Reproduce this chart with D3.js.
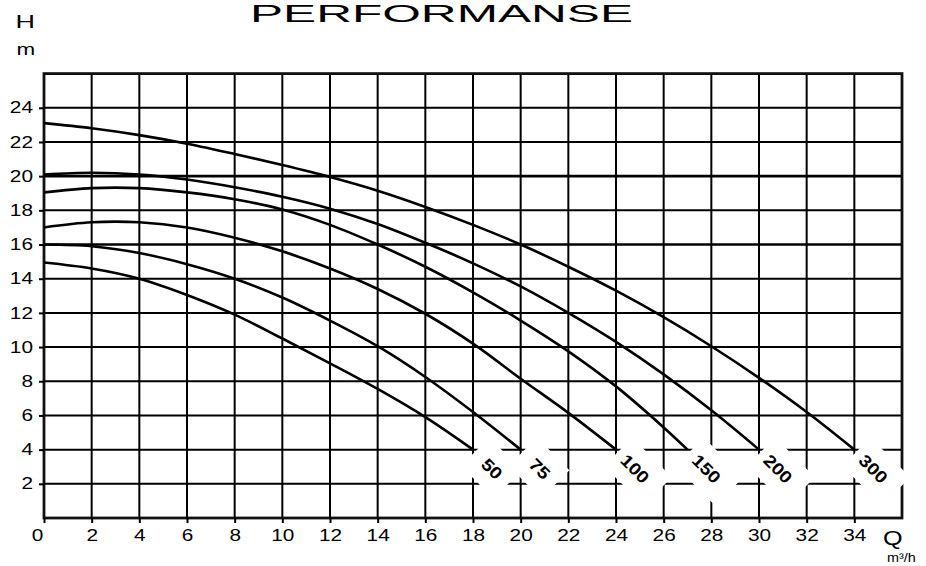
<!DOCTYPE html>
<html>
<head>
<meta charset="utf-8">
<script src="https://cdn.jsdelivr.net/npm/d3@7"></script>
<style>
  body { margin: 0; background: #fff; }
  text { font-family: "Liberation Sans", Arial, sans-serif; fill: #000; }
</style>
</head>
<body>
<div id="chart"></div>
<script>
// tick values
const qTicks = [0, 2, 4, 6, 8, 10, 12, 14, 16, 18, 20, 22, 24, 26, 28, 30, 32, 34];
const hTicks = [2, 4, 6, 8, 10, 12, 14, 16, 18, 20, 22, 24];

// pump curves, [Q m3/h, H m]
const curve50  = [[0,14.95],[2,14.6],[4,14.0],[6,13.05],[8,11.9],[10,10.5],[12,9.05],[14,7.55],[16,5.9],[18,4.0]];
const curve75  = [[0,16.0],[2,15.9],[4,15.5],[6,14.85],[8,14.0],[10,12.9],[12,11.55],[14,10.05],[16,8.25],[18,6.2],[20,4.0]];
const curve100 = [[0,17.0],[2,17.3],[4,17.3],[6,17.0],[8,16.4],[10,15.6],[12,14.6],[14,13.4],[16,11.95],[18,10.2],[20,8.15],[22,6.15],[24,4.0]];
const curve150 = [[0,19.05],[2,19.3],[4,19.3],[6,19.05],[8,18.65],[10,18.05],[12,17.15],[14,16.0],[16,14.7],[18,13.2],[20,11.55],[22,9.75],[24,7.7],[26,5.3],[27,4.0]];
const curve200 = [[0,20.1],[2,20.2],[4,20.1],[6,19.8],[8,19.35],[10,18.8],[12,18.1],[14,17.2],[16,16.1],[18,14.9],[20,13.55],[22,12.0],[24,10.3],[26,8.4],[28,6.3],[30,4.0]];
const curve300 = [[0,23.1],[2,22.8],[4,22.4],[6,21.9],[8,21.3],[10,20.65],[12,19.95],[14,19.15],[16,18.2],[18,17.15],[20,16.0],[22,14.7],[24,13.3],[26,11.75],[28,10.05],[30,8.2],[32,6.2],[34,4.0]];

const curveNames = ["50", "75", "100", "150", "200", "300"];
const curves = [curve50, curve75, curve100, curve150, curve200, curve300];

const W = 926, H = 566;
const svg = d3.select("#chart").append("svg")
  .attr("width", W)
  .attr("height", H);

const x = d3.scaleLinear().domain([0, 36]).range([44, 902]);
const y = d3.scaleLinear().domain([0, 26]).range([518, 73.6]);

// grid
const grid = svg.append("g");
grid.selectAll(".vline")
  .data(qTicks.filter(d => d > 0))
  .enter().append("line")
    .attr("x1", d => x(d)).attr("x2", d => x(d))
    .attr("y1", y(26)).attr("y2", y(0))
    .attr("stroke", "#000").attr("stroke-width", 2);
grid.selectAll(".hline")
  .data(hTicks)
  .enter().append("line")
    .attr("x1", x(0)).attr("x2", x(36))
    .attr("y1", d => y(d)).attr("y2", d => y(d))
    .attr("stroke", "#000")
    .attr("stroke-width", d => (d == 16 || d == 20) ? 2.6 : 2);

// frame
svg.append("rect")
  .attr("x", x(0)).attr("y", y(26))
  .attr("width", x(36) - x(0)).attr("height", y(0) - y(26))
  .attr("fill", "none").attr("stroke", "#111").attr("stroke-width", 2.8);

// axes
const xAxis = svg.append("g")
  .attr("transform", "translate(0," + y(0) + ")")
  .call(d3.axisBottom(x).tickValues(qTicks).tickSize(5).tickPadding(7));
const yAxis = svg.append("g")
  .attr("transform", "translate(" + x(0) + ",0)")
  .call(d3.axisLeft(y).tickValues(hTicks).tickSize(5));
[xAxis, yAxis].forEach(a => {
  a.select(".domain").remove();
  a.selectAll(".tick line").attr("stroke", "#000").attr("stroke-width", 2);
  a.selectAll("text")
    .style("font-family", '"Liberation Sans", Arial, sans-serif')
    .style("font-size", "16px")
    .attr("fill", "#000");
});
xAxis.selectAll("text")
  .attr("transform", d => (d == 0 ? "translate(-7,0) " : "") + "scale(1.3,1)");
yAxis.selectAll("text")
  .attr("x", 0)
  .attr("transform", "translate(-11,0) scale(1.3,1)");

// white label patches at the end of each curve
const ends = curves.map((c, i) => ({ name: curveNames[i], q: c[c.length - 1][0], h: c[c.length - 1][1] }));
const tags = svg.selectAll(".tag")
  .data(ends)
  .enter().append("g")
    .attr("class", "tag")
    .attr("transform", d => "translate(" + x(d.q) + "," + y(d.h) + ") rotate(45)");
tags.append("rect")
  .attr("x", 3).attr("y", -20)
  .attr("width", d => d.name.length > 2 ? 56 : 46)
  .attr("height", 40)
  .attr("fill", "#fff");

// curves
const line = d3.line()
  .curve(d3.curveCatmullRom.alpha(0.5))
  .x(d => x(d[0]))
  .y(d => y(d[1]));
svg.selectAll(".curve")
  .data(curves)
  .enter().append("path")
    .attr("class", "curve")
    .attr("d", line)
    .attr("fill", "none")
    .attr("stroke", "#000")
    .attr("stroke-width", 2.6);

tags.append("text")
  .attr("transform", "translate(27,0) scale(1.15,1)")
  .attr("text-anchor", "middle")
  .attr("dy", "0.36em")
  .style("font-size", "17px")
  .style("font-weight", "bold")
  .text(d => d.name);

// titles and axis names
svg.append("text")
  .attr("x", 250).attr("y", 21.5)
  .attr("textLength", 383).attr("lengthAdjust", "spacingAndGlyphs")
  .style("font-size", "23px")
  .text("PERFORMANSE");

svg.append("text")
  .attr("transform", "translate(15.5,28) scale(1.5,1)")
  .style("font-size", "18px")
  .text("H");
svg.append("text")
  .attr("transform", "translate(16.5,55) scale(1.4,1)")
  .style("font-size", "16px")
  .text("m");
svg.append("text")
  .attr("transform", "translate(883,545) scale(1.2,1)")
  .style("font-size", "21px")
  .text("Q");
svg.append("text")
  .attr("transform", "translate(887,562) scale(1.2,1)")
  .style("font-size", "12px")
  .text("m³/h");
</script>
</body>
</html>
